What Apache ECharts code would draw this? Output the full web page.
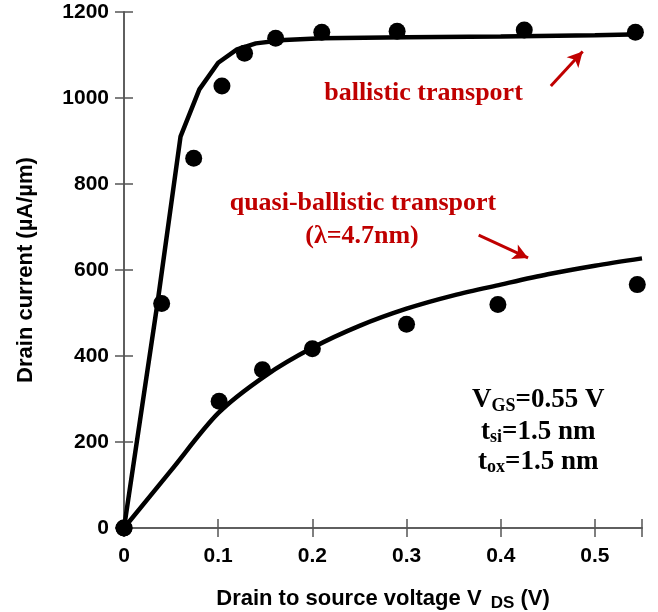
<!DOCTYPE html>
<html>
<head>
<meta charset="utf-8">
<script src="https://cdn.jsdelivr.net/npm/echarts@6/dist/echarts.min.js"></script>
<style>
  html, body { margin: 0; padding: 0; background: #fff; }
  #chart { width: 658px; height: 612px; }
</style>
</head>
<body>
<div id="chart"></div>
<script>
// Drain current vs drain-source voltage (V_GS = 0.55 V)
const xTicks = [0, 0.1, 0.2, 0.3, 0.4, 0.5];
const yTicks = [0, 200, 400, 600, 800, 1000, 1200];

// ballistic model curve
const ballisticLineV = [0, 0.036, 0.06, 0.08, 0.10, 0.12, 0.14, 0.17, 0.21, 0.30, 0.40, 0.50, 0.55];
const ballisticLineI = [0, 530, 910, 1020, 1082, 1113, 1127, 1135, 1139, 1141, 1143, 1146, 1148];
// ballistic simulation points
const ballisticPtsV = [0, 0.04, 0.074, 0.104, 0.128, 0.161, 0.21, 0.29, 0.425, 0.543];
const ballisticPtsI = [0, 522, 860, 1028, 1104, 1139, 1153, 1155, 1158, 1153];

// quasi-ballistic model curve
const quasiLineV = [0, 0.05, 0.10, 0.15, 0.20, 0.25, 0.30, 0.35, 0.40, 0.45, 0.50, 0.55];
const quasiLineI = [0, 134, 267, 354, 419, 470, 510, 541, 566, 590, 610, 627];
// quasi-ballistic simulation points
const quasiPtsV = [0, 0.101, 0.147, 0.2, 0.3, 0.397, 0.545];
const quasiPtsI = [0, 295, 368, 417, 474, 520, 566];

const pairs = (xs, ys) => xs.map((x, i) => [x, ys[i]]);

const SANS = '"Liberation Sans", Arial, sans-serif';
const SERIF = '"Liberation Serif", "Times New Roman", serif';
const RED = '#c00000';
const AXIS = '#555555';

const chart = echarts.init(document.getElementById('chart'), null, { renderer: 'canvas' });

const axisCommon = {
  type: 'value',
  axisLine: { show: true, lineStyle: { color: AXIS, width: 1.5 } },
  axisTick: { show: true, inside: true, length: 9, lineStyle: { color: AXIS, width: 1.5 } },
  splitLine: { show: false }
};

const option = {
  animation: false,
  backgroundColor: '#fff',
  grid: { left: 124, top: 12, right: 16, bottom: 84, containLabel: false, outerBoundsMode: 'none' },
  xAxis: [
    Object.assign({}, axisCommon, {
      position: 'bottom', min: 0, max: 0.55, interval: 0.1,
      axisLabel: {
        margin: 18, color: '#000', fontFamily: SANS, fontWeight: 'bold', fontSize: 21,
        formatter: v => (xTicks.indexOf(+v.toFixed(2)) >= 0 ? String(+v.toFixed(2)) : '')
      },
      name: 'Drain to source voltage V {sub|DS} (V)',
      nameLocation: 'middle', nameGap: 58,
      nameTextStyle: {
        color: '#000', fontFamily: SANS, fontWeight: 'bold', fontSize: 22, lineHeight: 26,
        rich: {
          sub: { fontFamily: SANS, fontWeight: 'bold', fontSize: 17, lineHeight: 12,
                 verticalAlign: 'bottom', color: '#000', padding: [0, 0, 0, 3] }
        }
      }
    }),
    Object.assign({}, axisCommon, {
      position: 'top', min: 0, max: 0.55, interval: 0.1,
      axisLabel: { show: false }
    })
  ],
  yAxis: [
    Object.assign({}, axisCommon, {
      position: 'left', min: 0, max: 1200, interval: 200,
      axisLabel: {
        margin: 15, color: '#000', fontFamily: SANS, fontWeight: 'bold', fontSize: 21,
        formatter: v => (yTicks.indexOf(v) >= 0 ? String(v) : '')
      },
      name: 'Drain current (\u00b5A/\u00b5m)',
      nameLocation: 'middle', nameGap: 87, nameRotate: 90,
      nameTextStyle: { color: '#000', fontFamily: SANS, fontWeight: 'bold', fontSize: 22 }
    }),
    Object.assign({}, axisCommon, {
      position: 'right', min: 0, max: 1200, interval: 200,
      axisLabel: { show: false }
    })
  ],
  series: [
    {
      name: 'ballistic model', type: 'line', data: pairs(ballisticLineV, ballisticLineI),
      showSymbol: false, symbol: 'none', smooth: false,
      lineStyle: { color: '#000', width: 4.5 }, z: 2,
      markLine: {
        silent: true, symbol: ['none', 'arrow'], symbolSize: [12, 15],
        label: { show: false },
        lineStyle: { color: RED, width: 3, type: 'solid' },
        data: [
          [{ coord: [0.4532, 1028] }, { coord: [0.487, 1108] }],
          [{ coord: [0.3766, 681] }, { coord: [0.429, 628] }]
        ]
      }
    },
    {
      name: 'quasi-ballistic model', type: 'line', data: pairs(quasiLineV, quasiLineI),
      showSymbol: false, symbol: 'none', smooth: 0.3,
      lineStyle: { color: '#000', width: 4.5 }, z: 2
    },
    {
      name: 'ballistic simulation', type: 'scatter', data: pairs(ballisticPtsV, ballisticPtsI),
      symbol: 'circle', symbolSize: 17, itemStyle: { color: '#000', opacity: 1 }, z: 3
    },
    {
      name: 'quasi-ballistic simulation', type: 'scatter', data: pairs(quasiPtsV, quasiPtsI),
      symbol: 'circle', symbolSize: 17, itemStyle: { color: '#000', opacity: 1 }, z: 3
    }
  ]
};

chart.setOption(option);

// annotation texts anchored in data coordinates
const at = (x, y) => chart.convertToPixel({ xAxisIndex: 0, yAxisIndex: 0 }, [x, y]);

const redText = (x, y, text) => {
  const p = at(x, y);
  return {
    type: 'text', x: p[0], y: p[1], z: 10,
    style: { text, fill: RED, font: 'bold 26px ' + SERIF, align: 'center', verticalAlign: 'middle' }
  };
};

const condText = (x, y, text) => {
  const p = at(x, y);
  return {
    type: 'text', x: p[0], y: p[1], z: 10,
    style: {
      text, align: 'center', verticalAlign: 'middle',
      fill: '#000', fontFamily: SERIF, fontWeight: 'bold', fontSize: 27, lineHeight: 30,
      rich: {
        m: { fontFamily: SERIF, fontWeight: 'bold', fontSize: 27, lineHeight: 30, fill: '#000' },
        s: { fontFamily: SERIF, fontWeight: 'bold', fontSize: 18, lineHeight: 12,
             verticalAlign: 'bottom', fill: '#000' }
      }
    }
  };
};

chart.setOption({
  graphic: [
    redText(0.318, 1012, 'ballistic transport'),
    redText(0.2537, 756, 'quasi-ballistic transport'),
    redText(0.2527, 678, '(\u03bb=4.7nm)'),
    condText(0.4399, 298, '{m|V}{s|GS}{m|=0.55 V}'),
    condText(0.4399, 224, '{m|t}{s|si}{m|=1.5 nm}'),
    condText(0.4399, 154, '{m|t}{s|ox}{m|=1.5 nm}')
  ]
});
</script>
</body>
</html>
